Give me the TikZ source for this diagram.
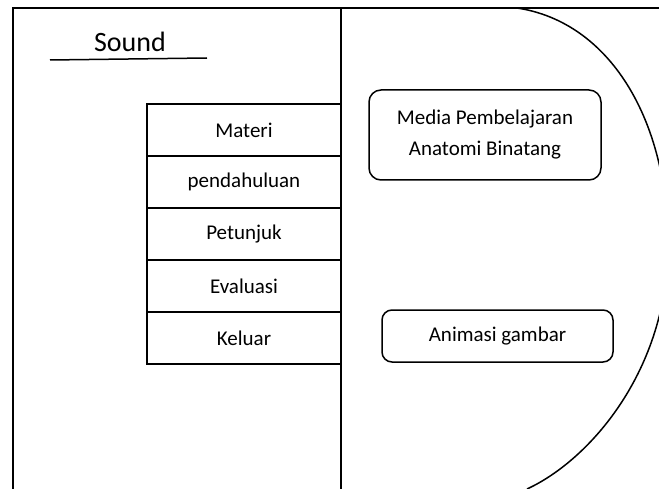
\documentclass[tikz,border=0pt]{standalone}
\usepackage{fontspec}
\setmainfont{Carlito}
\begin{document}
\begin{tikzpicture}[x=1pt,y=-1pt,
  frame/.style={line width=2.5pt},
  thin line/.style={line width=1.5pt},
  menubox/.style={draw, line width=1.6pt, minimum width=194pt, minimum height=52pt, inner sep=0pt, font=\fontsize{21}{25}\selectfont},
  rbox/.style={draw, line width=1.5pt, rounded corners=12pt, align=center, inner sep=0pt, font=\fontsize{21}{31}\selectfont}]
\useasboundingbox (0,0) rectangle (659,489);
\clip (0,0) rectangle (659,489);
% frame
\draw[frame] (13,495) -- (13,8) -- (665,8);
\draw[frame] (341,8) -- (341,495);
% title
\node[font=\fontsize{28}{32}\selectfont] (sound) at (130,42) {Sound};
\coordinate (ulA) at (50,60);
\coordinate (ulB) at (207,58);
\draw[thin line] (ulA) -- (ulB);
% menu
\node[menubox] (materi) at (244,130) {Materi};
\node[menubox] (pend) at (244,182) {pendahuluan};
\node[menubox] (petunjuk) at (244,234) {Petunjuk};
\node[menubox] (evaluasi) at (244,286) {Evaluasi};
\node[menubox] (keluar) at (244,338) {Keluar};
% right panel
\node[rbox, minimum width=232pt, minimum height=90pt] (media) at (485,135) {Media Pembelajaran\\Anatomi Binatang};
\node[rbox, rounded corners=10pt, minimum width=231pt, minimum height=52pt] (anim) at (497.5,336) {Animasi gambar};
% curve
\coordinate (cTop) at (517,8);
\coordinate (cMid) at (668,245);
\coordinate (cBot) at (527,489);
\draw[thin line] (cTop) .. controls (610,22) and (668,120) .. (cMid)
                        .. controls (668,370) and (590,460) .. (cBot);
\end{tikzpicture}
\end{document}
